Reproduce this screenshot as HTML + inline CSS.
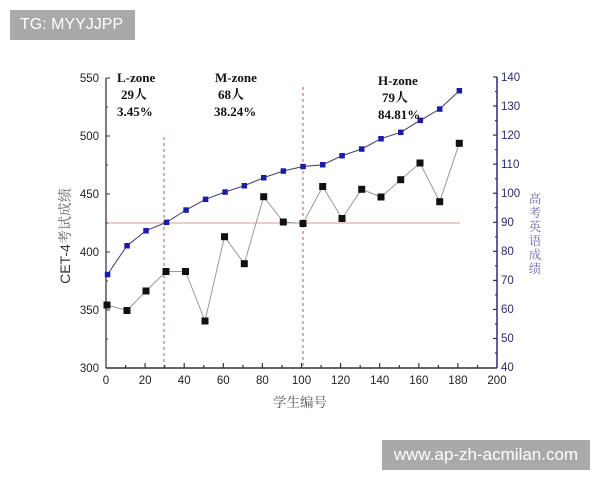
<!DOCTYPE html>
<html><head><meta charset="utf-8"><style>
html,body{margin:0;padding:0;background:#fff;}
body{width:600px;height:480px;position:relative;overflow:hidden;font-family:"Liberation Sans","Noto Sans CJK SC",sans-serif;}
.wm{position:absolute;background:#a9a9a9;color:#fff;font-family:"Liberation Sans",sans-serif;}
</style></head><body>
<svg width="600" height="480" viewBox="0 0 600 480" xmlns="http://www.w3.org/2000/svg" style="position:absolute;left:0;top:0">
<!-- reference lines -->
<line x1="106" y1="223" x2="460" y2="223" stroke="#dc9a9a" stroke-width="1"/>
<line x1="164" y1="137" x2="164" y2="368" stroke="#c47878" stroke-width="1.2" stroke-dasharray="3,3"/>
<line x1="303" y1="87" x2="303" y2="368" stroke="#c47878" stroke-width="1.2" stroke-dasharray="3,3"/>

<!-- left axis -->
<line x1="106" y1="78" x2="106" y2="368" stroke="#555" stroke-width="1.5"/>
<g stroke="#555" stroke-width="1.2">
<line x1="106" y1="78" x2="110" y2="78"/><line x1="106" y1="136" x2="110" y2="136"/><line x1="106" y1="194" x2="110" y2="194"/><line x1="106" y1="252" x2="110" y2="252"/><line x1="106" y1="310" x2="110" y2="310"/>
<line x1="106" y1="107" x2="108" y2="107"/><line x1="106" y1="165" x2="108" y2="165"/><line x1="106" y1="223" x2="108" y2="223"/><line x1="106" y1="281" x2="108" y2="281"/><line x1="106" y1="339" x2="108" y2="339"/>
</g>
<g font-family="Liberation Sans" font-size="11.5" fill="#222" text-anchor="end">
<text x="99" y="82">550</text><text x="99" y="140">500</text><text x="99" y="198">450</text><text x="99" y="256">400</text><text x="99" y="314">350</text><text x="99" y="372">300</text>
</g>

<!-- x axis -->
<line x1="106" y1="368" x2="497" y2="368" stroke="#333" stroke-width="1.5"/>
<g stroke="#333" stroke-width="1.2">
<line x1="145.1" y1="368" x2="145.1" y2="363"/><line x1="184.2" y1="368" x2="184.2" y2="363"/><line x1="223.3" y1="368" x2="223.3" y2="363"/><line x1="262.4" y1="368" x2="262.4" y2="363"/><line x1="301.5" y1="368" x2="301.5" y2="363"/><line x1="340.6" y1="368" x2="340.6" y2="363"/><line x1="379.7" y1="368" x2="379.7" y2="363"/><line x1="418.8" y1="368" x2="418.8" y2="363"/><line x1="457.9" y1="368" x2="457.9" y2="363"/>
<line x1="125.6" y1="368" x2="125.6" y2="365"/><line x1="164.7" y1="368" x2="164.7" y2="365"/><line x1="203.8" y1="368" x2="203.8" y2="365"/><line x1="242.9" y1="368" x2="242.9" y2="365"/><line x1="282" y1="368" x2="282" y2="365"/><line x1="321.1" y1="368" x2="321.1" y2="365"/><line x1="360.2" y1="368" x2="360.2" y2="365"/><line x1="399.3" y1="368" x2="399.3" y2="365"/><line x1="438.4" y1="368" x2="438.4" y2="365"/><line x1="477.5" y1="368" x2="477.5" y2="365"/>
</g>
<g font-family="Liberation Sans" font-size="11.5" fill="#222" text-anchor="middle">
<text x="106" y="384">0</text><text x="145.1" y="384">20</text><text x="184.2" y="384">40</text><text x="223.3" y="384">60</text><text x="262.4" y="384">80</text><text x="301.5" y="384">100</text><text x="340.6" y="384">120</text><text x="379.7" y="384">140</text><text x="418.8" y="384">160</text><text x="457.9" y="384">180</text><text x="497" y="384">200</text>
</g>
<text x="300" y="407" font-family="Noto Serif CJK SC, serif" font-size="13.5" fill="#555" text-anchor="middle">学生编号</text>

<!-- right axis -->
<line x1="497" y1="77" x2="497" y2="368" stroke="#2e2e6e" stroke-width="1.5"/>
<g stroke="#2e2e6e" stroke-width="1.2">
<line x1="493" y1="77" x2="497" y2="77"/><line x1="493" y1="106" x2="497" y2="106"/><line x1="493" y1="135.1" x2="497" y2="135.1"/><line x1="493" y1="164.2" x2="497" y2="164.2"/><line x1="493" y1="193.2" x2="497" y2="193.2"/><line x1="493" y1="222.3" x2="497" y2="222.3"/><line x1="493" y1="251.3" x2="497" y2="251.3"/><line x1="493" y1="280.4" x2="497" y2="280.4"/><line x1="493" y1="309.4" x2="497" y2="309.4"/><line x1="493" y1="338.5" x2="497" y2="338.5"/>
<line x1="495" y1="91.5" x2="497" y2="91.5"/><line x1="495" y1="120.6" x2="497" y2="120.6"/><line x1="495" y1="149.6" x2="497" y2="149.6"/><line x1="495" y1="178.7" x2="497" y2="178.7"/><line x1="495" y1="207.7" x2="497" y2="207.7"/><line x1="495" y1="236.8" x2="497" y2="236.8"/><line x1="495" y1="265.9" x2="497" y2="265.9"/><line x1="495" y1="294.9" x2="497" y2="294.9"/><line x1="495" y1="324" x2="497" y2="324"/><line x1="495" y1="353" x2="497" y2="353"/>
</g>
<g font-family="Liberation Sans" font-size="11.5" fill="#2a2a70">
<text x="501" y="81">140</text><text x="501" y="110">130</text><text x="501" y="139">120</text><text x="501" y="168">110</text><text x="501" y="197">100</text><text x="501" y="226">90</text><text x="501" y="255">80</text><text x="501" y="284">70</text><text x="501" y="313">60</text><text x="501" y="342">50</text><text x="501" y="371">40</text>
</g>

<!-- black series -->
<polyline fill="none" stroke="#999" stroke-width="1" points="107,305 127,310.5 146,291 166,271.5 185.5,271.5 205,321 224.5,236.7 244.3,263.7 263.7,196.7 283.3,222 303,223.5 322.7,186.5 342,218.5 361.7,189.3 381,197 400.7,179.7 420,163 439.7,201.7 459.3,143.3"/>
<g fill="#111">
<rect x="103.5" y="301.5" width="7" height="7"/><rect x="123.5" y="307" width="7" height="7"/><rect x="142.5" y="287.5" width="7" height="7"/><rect x="162.5" y="268" width="7" height="7"/><rect x="182" y="268" width="7" height="7"/><rect x="201.5" y="317.5" width="7" height="7"/><rect x="221" y="233.2" width="7" height="7"/><rect x="240.8" y="260.2" width="7" height="7"/><rect x="260.2" y="193.2" width="7" height="7"/><rect x="279.8" y="218.5" width="7" height="7"/><rect x="299.5" y="220" width="7" height="7"/><rect x="319.2" y="183" width="7" height="7"/><rect x="338.5" y="215" width="7" height="7"/><rect x="358.2" y="185.8" width="7" height="7"/><rect x="377.5" y="193.5" width="7" height="7"/><rect x="397.2" y="176.2" width="7" height="7"/><rect x="416.5" y="159.5" width="7" height="7"/><rect x="436.2" y="198.2" width="7" height="7"/><rect x="455.8" y="139.8" width="7" height="7"/>
</g>

<!-- blue series -->
<polyline fill="none" stroke="#3a3a6a" stroke-width="1" points="107.5,274.5 127,245.7 146,230.7 166.5,222.3 186,210 205.5,199.3 225,192 244.3,185.7 263.7,177.7 283.3,171 303,166.5 322.7,164.7 342,155.7 361.7,149 381,138.7 400.7,132.3 420.3,120.3 439.7,109 459.3,90.7"/>
<g fill="#1c1ca6">
<rect x="104.8" y="271.8" width="5.5" height="5.5"/><rect x="124.3" y="243" width="5.5" height="5.5"/><rect x="143.3" y="228" width="5.5" height="5.5"/><rect x="163.8" y="219.6" width="5.5" height="5.5"/><rect x="183.3" y="207.3" width="5.5" height="5.5"/><rect x="202.8" y="196.6" width="5.5" height="5.5"/><rect x="222.3" y="189.3" width="5.5" height="5.5"/><rect x="241.6" y="183" width="5.5" height="5.5"/><rect x="261" y="175" width="5.5" height="5.5"/><rect x="280.6" y="168.3" width="5.5" height="5.5"/><rect x="300.3" y="163.8" width="5.5" height="5.5"/><rect x="320" y="162" width="5.5" height="5.5"/><rect x="339.3" y="153" width="5.5" height="5.5"/><rect x="359" y="146.3" width="5.5" height="5.5"/><rect x="378.3" y="136" width="5.5" height="5.5"/><rect x="398" y="129.6" width="5.5" height="5.5"/><rect x="417.6" y="117.6" width="5.5" height="5.5"/><rect x="437" y="106.3" width="5.5" height="5.5"/><rect x="456.6" y="88" width="5.5" height="5.5"/>
</g>

<!-- annotations -->
<g font-family="Liberation Serif, Noto Serif CJK SC, serif" font-size="13" font-weight="bold" fill="#111">
<text x="117" y="82">L-zone</text><text x="121" y="99">29人</text><text x="117" y="116">3.45%</text>
<text x="215" y="82">M-zone</text><text x="218" y="99">68人</text><text x="214" y="116">38.24%</text>
<text x="378" y="85">H-zone</text><text x="382" y="102">79人</text><text x="378" y="119">84.81%</text>
</g>

<!-- left axis title -->
<text transform="translate(70,236) rotate(-90)" text-anchor="middle" fill="#333"><tspan font-family="Liberation Sans" font-size="14">CET-4</tspan><tspan font-family="Noto Serif CJK SC, serif" font-size="14" fill="#666">考试成绩</tspan></text>

<!-- right axis title -->
<g font-family="Noto Serif CJK SC, serif" font-size="12.5" fill="#6a6ab4" text-anchor="middle">
<text x="535" y="203">高</text><text x="535" y="217">考</text><text x="535" y="231">英</text><text x="535" y="245">语</text><text x="535" y="259">成</text><text x="535" y="273">绩</text>
</g>
</svg>
<div class="wm" style="left:10px;top:10px;width:125px;height:30px;font-size:16px;line-height:30px;text-indent:10px;">TG: MYYJJPP</div>
<div class="wm" style="left:382px;top:440px;width:208px;height:30px;font-size:17px;line-height:30px;text-align:center;">www.ap-zh-acmilan.com</div>
</body></html>
